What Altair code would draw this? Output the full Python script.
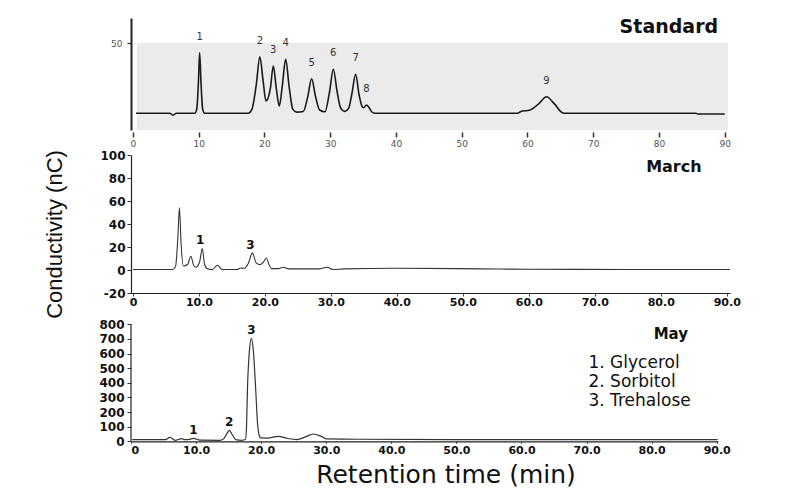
import altair as alt
import pandas as pd

# ---------------- data ----------------
# Standard chromatogram (retention time in min, signal)
std_t = [0.45, 5.6, 6.1, 6.6, 9.4, 9.7, 9.95, 10.14, 10.35, 10.6, 10.9,
         17.5, 18.1, 18.75, 19.3, 19.8, 20.23, 20.9, 21.34, 21.8, 22.25, 22.7, 23.22, 23.75, 24.3, 24.9,
         25.9, 26.6, 27.17, 27.75, 28.4, 29.2, 29.9, 30.47, 31.05, 31.6, 32.2, 32.8, 33.3, 33.87, 34.4,
         34.85, 35.1, 35.5, 35.9, 36.3, 36.8,
         58.5, 59.0, 60.4, 61.7, 62.9, 64.1, 65.4, 66.0, 85.6, 85.9, 90.0]
std_v = [9.6, 9.6, 8.5, 9.6, 9.6, 12, 27, 44.4, 27, 12, 9.6,
         9.6, 12, 26, 42.1, 28, 16.7, 24, 36.8, 24, 13.8, 25, 40.6, 25, 12, 10.3,
         10.6, 19.5, 29.5, 19.5, 11.5, 10.5, 22, 34.9, 22, 12.5, 10.7, 12.5, 21, 32.0, 20,
         13.5, 12.8, 14.4, 13, 10.5, 9.6,
         9.6, 10.6, 11.5, 15, 19.1, 15, 9.8, 9.6, 9.6, 9.2, 9.2]
std_peak_t = [10.14, 19.3, 21.34, 23.22, 27.17, 30.47, 33.87, 35.5, 62.9]
std_peak_v = [44.4, 42.1, 36.8, 40.6, 29.5, 34.9, 32.0, 14.4, 19.1]
std_peak_lbl = ["1", "2", "3", "4", "5", "6", "7", "8", "9"]

# March sample
march_t = [0.0, 6.0, 6.45, 6.8, 7.04, 7.3, 7.65, 8.3, 8.77, 9.2, 9.5, 10.1, 10.5, 10.85, 11.3, 12.0,
           12.8, 13.5, 15.8, 16.3, 16.9, 17.5, 18.1, 18.7, 19.3, 19.8, 20.2, 20.6, 21.0, 22.0, 22.8,
           23.6, 28.3, 29.4, 30.4, 32.0, 40.0, 52.5, 60.0, 75.0, 90.5]
march_v = [0.4, 0.5, 3, 28, 54.1, 22, 3.5, 5, 12, 4, 2.4, 7, 18.7, 5, 1, 0.3,
           4.1, 0.5, 0.5, 1.8, 1.5, 6, 14.9, 6, 4.7, 7, 10.5, 5, 1.2, 1.2, 2.4,
           1, 1, 2.4, 0.4, 1, 1.5, 1.0, 0.6, 0.5, 0.4]
march_peak_t = [10.5, 18.1]
march_peak_v = [18.7, 14.9]
march_peak_lbl = ["1", "3"]

# May sample
may_t = [0.2, 5.3, 6.0, 6.75, 7.8, 8.3, 9.0, 9.6, 10.6, 13.7, 14.3, 14.7, 15.1, 15.5, 16.1, 17.0,
         17.6, 17.75, 17.9, 18.2, 18.5, 18.8, 19.15, 19.45, 19.7, 19.95, 21.0, 22.6, 24.0, 25.5,
         26.8, 28.0, 29.2, 30.1, 35.0, 50.0, 70.0, 90.15]
may_v = [11.6, 11.6, 27, 7, 18, 11, 13, 20, 8, 7, 20, 50, 75, 50, 11.6, 7,
         12, 100, 365, 620, 704, 620, 365, 120, 40, 23, 22, 34, 20, 12,
         30, 50, 35, 16, 14, 12, 11, 12]
may_peak_t = [9.6, 15.1, 18.5]
may_peak_v = [20, 75, 704]
may_peak_lbl = ["1", "2", "3"]

compounds = ["Glycerol", "Sorbitol", "Trehalose"]
panel_names = ["Standard", "March", "May"]

x_ticks = [0, 10, 20, 30, 40, 50, 60, 70, 80, 90]
std_y_ticks = [50]
march_y_ticks = [-20, 0, 20, 40, 60, 80, 100]
may_y_ticks = [0, 100, 200, 300, 400, 500, 600, 700, 800]

# ---------------- frames ----------------
std_df = pd.DataFrame({"t": std_t, "v": std_v})
std_pk = pd.DataFrame({"t": std_peak_t, "v": std_peak_v, "lab": std_peak_lbl})
march_df = pd.DataFrame({"t": march_t, "v": march_v})
march_pk = pd.DataFrame({"t": march_peak_t, "v": march_peak_v, "lab": march_peak_lbl})
may_df = pd.DataFrame({"t": may_t, "v": may_v})
may_pk = pd.DataFrame({"t": may_peak_t, "v": may_peak_v, "lab": may_peak_lbl})
legend_df = pd.DataFrame({"legend": ["\n".join(f"{i + 1}. {c}" for i, c in enumerate(compounds))]})
one_row = pd.DataFrame({"k": [0]})
name_dfs = [pd.DataFrame({"name": [n]}) for n in panel_names]

WIDE = "DejaVu Sans"
LBL_EXPR = "datum.value == 0 ? '0' : format(datum.value, '.1f')"
HYPHEN_EXPR = "datum.value < 0 ? '-' + abs(datum.value) : '' + datum.value"
MANY = 30  # tick count high enough that Vega keeps every explicit tick value

# ---------------- Standard panel ----------------
xs_std = alt.Scale(domain=[-0.3, 90.5], nice=False, zero=False)
ys_std = alt.Scale(domain=[0, 64.4], nice=False, zero=False)
std_xaxis = alt.Axis(values=x_ticks, tickCount=MANY, domain=False, grid=False, tickSize=5, tickWidth=1.5,
                     tickColor="#333", offset=2, labelFont=WIDE, labelFontSize=9, labelColor="#555",
                     labelPadding=2, labelOverlap=False, title=None, format="d")
std_yaxis = alt.Axis(values=std_y_ticks, tickCount=MANY, domain=True, domainColor="#222", domainWidth=2,
                     tickSize=4, tickColor="#333", tickWidth=1.2, labelFont=WIDE, labelFontSize=9,
                     labelColor="#555", labelPadding=5, labelOverlap=False, title=None, grid=False)

std_bg = alt.Chart(one_row).mark_rect(color="#ebebeb").encode(
    x=alt.X(datum=0.6, scale=xs_std, axis=std_xaxis),
    x2=alt.X2(datum=90.5),
    y=alt.Y(datum=0, scale=ys_std, axis=std_yaxis),
    y2=alt.Y2(datum=50),
)
std_line = alt.Chart(std_df).mark_line(color="#1a1a1a", strokeWidth=1.6, interpolate="monotone").encode(
    x=alt.X("t:Q", scale=xs_std, axis=std_xaxis),
    y=alt.Y("v:Q", scale=ys_std, axis=std_yaxis),
)
std_lab = alt.Chart(std_pk).mark_text(font=WIDE, fontSize=10, color="#333", dy=-16, baseline="middle").encode(
    x="t:Q", y="v:Q", text="lab:N",
)
std_name = alt.Chart(name_dfs[0]).mark_text(font=WIDE, fontSize=19, fontWeight="bold", color="#111",
                                            align="right", baseline="middle").encode(
    x=alt.X(datum=89.0), y=alt.Y(datum=59.4), text="name:N",
)
std_chart = alt.layer(std_bg, std_line, std_lab, std_name).properties(width=597, height=112)

# ---------------- March panel ----------------
xs_mar = alt.Scale(domain=[-0.3, 90.5], nice=False, zero=False)
ys_mar = alt.Scale(domain=[-20, 100], nice=False, zero=False)

march_line = alt.Chart(march_df).mark_line(color="#333", strokeWidth=1.1, interpolate="monotone").encode(
    x=alt.X("t:Q", scale=xs_mar, axis=alt.Axis(
        values=x_ticks, tickCount=MANY, labelExpr=LBL_EXPR, domainColor="#222", domainWidth=1.2,
        tickSize=3, tickColor="#444", labelFont=WIDE, labelFontWeight="bold", labelFontSize=11,
        labelColor="#111", labelPadding=0, labelOverlap=False, title=None, grid=False)),
    y=alt.Y("v:Q", scale=ys_mar, axis=alt.Axis(
        values=march_y_ticks, tickCount=MANY, labelExpr=HYPHEN_EXPR, domainColor="#222",
        domainWidth=1.2, tickSize=4, tickColor="#333", labelFont=WIDE, labelFontWeight="bold",
        labelFontSize=12, labelColor="#111", labelPadding=2, labelOverlap=False, grid=False,
        title="Conductivity (nC)", titleFont="Liberation Sans", titleFontSize=22,
        titleFontWeight="normal", titleColor="#111", titleAngle=270, titleX=-77, titleY=79,
        titleAlign="center", titleBaseline="middle")),
)
march_lab = alt.Chart(march_pk).mark_text(font=WIDE, fontSize=12, fontWeight="bold", color="#111",
                                          dy=-8, dx=-2, baseline="middle").encode(
    x="t:Q", y="v:Q", text="lab:N",
)
march_name = alt.Chart(name_dfs[1]).mark_text(font=WIDE, fontSize=16, fontWeight="bold", color="#111",
                                              align="right", baseline="middle").encode(
    x=alt.X(datum=86.2), y=alt.Y(datum=89.3), text="name:N",
)
march_chart = alt.layer(march_line, march_lab, march_name).properties(width=599, height=138)

# ---------------- May panel ----------------
xs_may = alt.Scale(domain=[0, 90.2], nice=False, zero=False)
ys_may = alt.Scale(domain=[0, 843.1], nice=False, zero=False)

may_line = alt.Chart(may_df).mark_line(color="#333", strokeWidth=1.2, interpolate="monotone").encode(
    x=alt.X("t:Q", scale=xs_may, axis=alt.Axis(
        values=x_ticks, tickCount=MANY, labelExpr=LBL_EXPR, domainColor="#222", domainWidth=1.2,
        tickSize=2, tickColor="#444", labelFont=WIDE, labelFontWeight="bold", labelFontSize=11,
        labelColor="#111", labelPadding=1, labelOverlap=False, grid=False, title="Retention time (min)",
        titleFont=WIDE, titleFontSize=25, titleFontWeight="normal", titleColor="#111",
        titleX=314.5, titleY=33, titleAlign="center", titleBaseline="middle")),
    y=alt.Y("v:Q", scale=ys_may, axis=alt.Axis(
        values=may_y_ticks, tickCount=MANY, domain=False, tickSize=4, tickColor="#333",
        labelFont=WIDE, labelFontWeight="bold", labelFontSize=12, labelColor="#111", labelPadding=3,
        labelOverlap=False, grid=False, title=None)),
)
may_axis_line = alt.Chart(one_row).mark_rule(color="#222", strokeWidth=1.2).encode(
    x=alt.X(datum=0),
    y=alt.Y(datum=0),
    y2=alt.Y2(datum=800),
)
may_lab = alt.Chart(may_pk).mark_text(font=WIDE, fontSize=12, fontWeight="bold", color="#111",
                                      dy=-8, baseline="middle").encode(
    x="t:Q", y="v:Q", text="lab:N",
)
may_legend = alt.Chart(legend_df).mark_text(font=WIDE, fontSize=17, color="#111", align="left",
                                            baseline="top", lineBreak="\n", lineHeight=18.7).encode(
    x=alt.X(datum=70.3),
    y=alt.Y(datum=589),
    text="legend:N",
)
may_name = alt.Chart(name_dfs[2]).mark_text(font=WIDE, fontSize=15, fontWeight="bold", color="#111",
                                            align="right", baseline="middle").encode(
    x=alt.X(datum=85.6), y=alt.Y(datum=733.7), text="name:N",
)
may_chart = alt.layer(may_line, may_axis_line, may_lab, may_legend, may_name).properties(
    width=587, height=123.3)

chart = alt.vconcat(std_chart, march_chart, may_chart, spacing=25, bounds="flush").properties(
    padding={"left": 43, "top": 17, "right": 10, "bottom": 5},
    background="white",
).configure_view(stroke=None).configure_axis(grid=False, labelOverlap=False)

chart.save("out.html", embed_options={"renderer": "svg", "actions": False})
